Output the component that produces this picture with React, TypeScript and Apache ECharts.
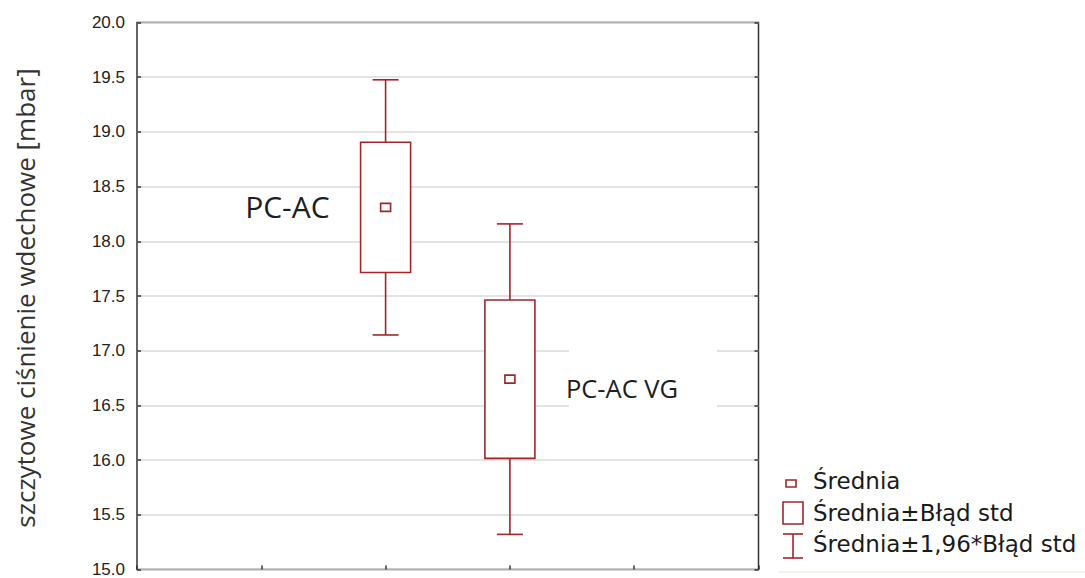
import React, { useEffect, useRef } from "react";
import * as echarts from "echarts";

// Groups compared on the plot
const categories = ["PC-AC", "PC-AC VG"];
// Group means [mbar]
const means = [18.31, 16.74];
// Standard error of each mean [mbar]
const stdErrors = [0.595, 0.724];
// Multiplier for the whisker range (≈95% CI)
const ciFactor = 1.96;

// Y axis ticks
const yMin = 15;
const yMax = 20;
const yStep = 0.5;

// Legend entries
const legendLabels = ["Średnia", "Średnia±Błąd std", "Średnia±1,96*Błąd std"];

const RED = "#a0262a";
const FRAME = "#333333";

export default function App() {
  const ref = useRef<HTMLDivElement>(null);

  useEffect(() => {
    if (!ref.current) return;
    const chart = echarts.init(ref.current, null, { renderer: "svg" });

    // groups sit on the 2nd and 3rd of five equal x divisions
    const seriesData = categories.map((name, i) => ({
      name,
      value: [i + 2, means[i], stdErrors[i]],
    }));

    const renderItem = (params: any, api: any) => {
      const i = params.dataIndex;
      const x = api.value(0);
      const mean = api.value(1);
      const se = api.value(2);
      const [cx, yMean] = api.coord([x, mean]);
      const yBoxTop = api.coord([x, mean + se])[1];
      const yBoxBot = api.coord([x, mean - se])[1];
      const yWTop = api.coord([x, mean + ciFactor * se])[1];
      const yWBot = api.coord([x, mean - ciFactor * se])[1];
      const boxW = 50;
      const capW = 26;
      const lineStyle = { stroke: RED, lineWidth: 1.6, fill: "none" };
      const children: any[] = [];

      // whiskers
      children.push({
        type: "line",
        shape: { x1: cx, y1: yWTop, x2: cx, y2: yBoxTop },
        style: lineStyle,
      });
      children.push({
        type: "line",
        shape: { x1: cx, y1: yBoxBot, x2: cx, y2: yWBot },
        style: lineStyle,
      });
      children.push({
        type: "line",
        shape: { x1: cx - capW / 2, y1: yWTop, x2: cx + capW / 2, y2: yWTop },
        style: lineStyle,
      });
      children.push({
        type: "line",
        shape: { x1: cx - capW / 2, y1: yWBot, x2: cx + capW / 2, y2: yWBot },
        style: lineStyle,
      });
      // box: mean ± standard error
      children.push({
        type: "rect",
        shape: { x: cx - boxW / 2, y: yBoxTop, width: boxW, height: yBoxBot - yBoxTop },
        style: { stroke: RED, lineWidth: 1.6, fill: "#ffffff" },
      });
      // mean marker
      children.push({
        type: "rect",
        shape: { x: cx - 5, y: yMean - 4, width: 10, height: 8 },
        style: { stroke: RED, lineWidth: 1.6, fill: "#ffffff" },
      });

      // group name
      const name = categories[i];
      if (i === 0) {
        children.push({
          type: "text",
          x: cx - boxW / 2 - 31,
          y: yMean - 1,
          style: {
            text: name,
            font: '30px "Open Sans", sans-serif',
            fill: "#1e1e1e",
            textAlign: "right",
            textVerticalAlign: "middle",
          },
        });
      } else {
        const tx = cx + boxW / 2 + 31;
        children.push({
          type: "rect",
          shape: { x: tx + 3, y: yMean - 32, width: 148, height: 60 },
          style: { fill: "#ffffff", stroke: "none" },
        });
        children.push({
          type: "text",
          x: tx,
          y: yMean + 9,
          style: {
            text: name,
            font: '25.5px "Open Sans", sans-serif',
            fill: "#1e1e1e",
            textAlign: "left",
            textVerticalAlign: "middle",
          },
        });
      }
      return { type: "group", children };
    };

    const legendFont = '23px "DejaVu Sans", sans-serif';
    const legendText = (text: string, y: number) => ({
      type: "text",
      x: 813,
      y,
      style: {
        text,
        font: legendFont,
        fill: "#1a1a1a",
        textAlign: "left",
        textVerticalAlign: "middle",
      },
    });
    const legendStroke = { stroke: RED, lineWidth: 1.6, fill: "#ffffff" };

    chart.setOption({
      animation: false,
      backgroundColor: "#ffffff",
      grid: {
        left: 137,
        top: 22.5,
        right: 326.5,
        bottom: 6.5,
        show: true,
        borderColor: FRAME,
        borderWidth: 1.5,
        backgroundColor: "transparent",
      },
      xAxis: {
        type: "value",
        min: 0,
        max: 5,
        interval: 1,
        axisLine: { show: false },
        axisTick: { show: true, inside: true, length: 4, lineStyle: { color: FRAME, width: 1.5 } },
        axisLabel: { show: false },
        splitLine: { show: false },
      },
      yAxis: [
        {
          type: "value",
          min: yMin,
          max: yMax,
          interval: yStep,
          axisLine: { show: false },
          axisTick: { show: true, inside: true, length: 4, lineStyle: { color: FRAME, width: 1.5 } },
          axisLabel: {
            margin: 12,
            color: "#222222",
            fontSize: 17,
            fontFamily: '"Liberation Sans", Arial, sans-serif',
            formatter: (v: number) => v.toFixed(1),
          },
          splitLine: { show: true, lineStyle: { color: "#dadada", width: 1.5 } },
        },
        {
          type: "value",
          position: "right",
          min: yMin,
          max: yMax,
          interval: yStep,
          axisLine: { show: false },
          axisTick: { show: true, inside: true, length: 4, lineStyle: { color: FRAME, width: 1.5 } },
          axisLabel: { show: false },
          splitLine: { show: false },
        },
      ],
      series: [
        {
          type: "custom",
          xAxisIndex: 0,
          yAxisIndex: 0,
          renderItem,
          data: seriesData,
          clip: false,
        },
      ],
      graphic: [
        // y axis title
        {
          type: "text",
          x: 25,
          y: 298,
          rotation: Math.PI / 2,
          style: {
            text: "szczytowe ciśnienie wdechowe [mbar]",
            font: '26px "Open Sans", sans-serif',
            fill: "#333333",
            textAlign: "center",
            textVerticalAlign: "middle",
          },
        },
        // legend: mean marker
        { type: "rect", shape: { x: 786, y: 480, width: 10, height: 7 }, style: legendStroke },
        legendText(legendLabels[0], 481),
        // legend: standard error box
        { type: "rect", shape: { x: 783, y: 502, width: 20, height: 22 }, style: legendStroke },
        legendText(legendLabels[1], 513),
        // legend: whisker
        { type: "line", shape: { x1: 783, y1: 534, x2: 803, y2: 534 }, style: legendStroke },
        { type: "line", shape: { x1: 793, y1: 534, x2: 793, y2: 558 }, style: legendStroke },
        { type: "line", shape: { x1: 783, y1: 558, x2: 803, y2: 558 }, style: legendStroke },
        legendText(legendLabels[2], 544),
        {
          type: "line",
          shape: { x1: 778, y1: 572, x2: 1085, y2: 572 },
          style: { stroke: "#f4efdf", lineWidth: 1.5 },
        },
      ],
    });

    return () => chart.dispose();
  }, []);

  return (
    <div
      ref={ref}
      style={{ position: "fixed", left: 0, top: 0, width: 1085, height: 578, background: "#fff" }}
    />
  );
}
